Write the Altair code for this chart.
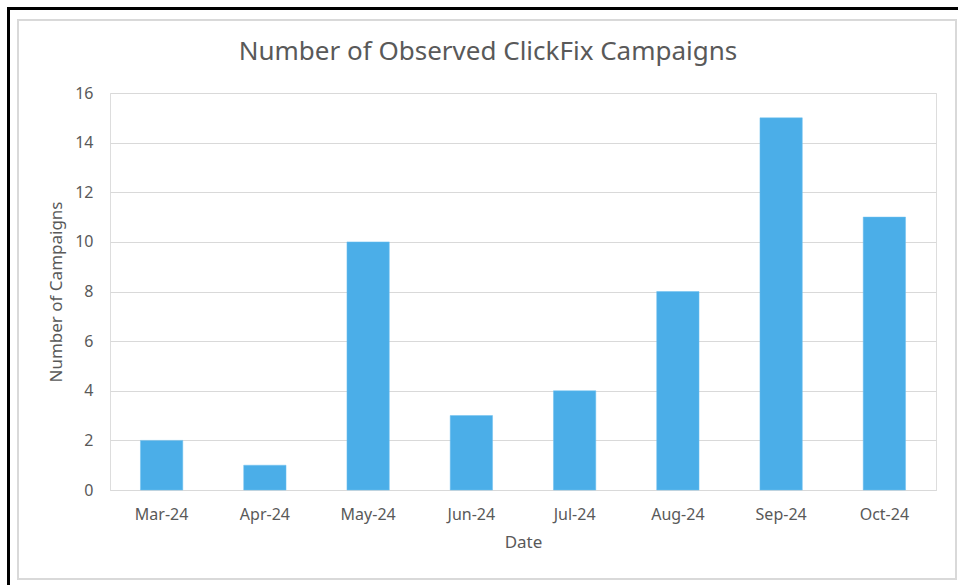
import altair as alt
import pandas as pd

months = ["Mar-24", "Apr-24", "May-24", "Jun-24", "Jul-24", "Aug-24", "Sep-24", "Oct-24"]
campaigns = [2, 1, 10, 3, 4, 8, 15, 11]
chart_title = "Number of Observed ClickFix Campaigns"

df = pd.DataFrame({"Date": months, "Campaigns": campaigns})

FONT = "Noto Sans"
GRAY = "#595959"

bars = alt.Chart(df).mark_bar(color="#4BAEE8", stroke="#6EC0F0", strokeWidth=0.5).encode(
    x=alt.X("Date:N", sort=months, title="Date",
            scale=alt.Scale(paddingInner=0.59, paddingOuter=0.295),
            axis=alt.Axis(labelAngle=0, ticks=False, domain=True, domainColor="#d9d9d9",
                          labelPadding=16, titlePadding=12, labelFontSize=16, titleFontSize=17,
                          labelColor=GRAY, titleColor=GRAY, titleFontWeight="normal",
                          labelFont=FONT, titleFont=FONT)),
    y=alt.Y("Campaigns:Q", title="Number of Campaigns",
            scale=alt.Scale(domain=[0, 16]),
            axis=alt.Axis(values=list(range(0, 17, 2)), ticks=False, domain=False,
                          gridColor="#d9d9d9", labelPadding=17, titlePadding=9,
                          labelFontSize=16, titleFontSize=17, labelColor=GRAY, titleColor=GRAY,
                          titleFontWeight="normal", labelFont=FONT, titleFont=FONT)),
)

inner_box = alt.Chart(df).mark_rect(fill=None, stroke="#d9d9d9", strokeWidth=1.5).encode(
    x=alt.value(18 - 110), x2=alt.value(956 - 110),
    y=alt.value(20 - 93), y2=alt.value(579 - 93),
)
top_line = alt.Chart(df).mark_rule(color="black", strokeWidth=3).encode(
    x=alt.value(7 - 110), x2=alt.value(960 - 110), y=alt.value(8.5 - 93)
)
left_line = alt.Chart(df).mark_rule(color="black", strokeWidth=3).encode(
    x=alt.value(8.5 - 110), y=alt.value(7 - 93), y2=alt.value(590 - 93)
)
title_text = alt.Chart(df).transform_filter("datum.Date == 'Mar-24'").mark_text(
    text=chart_title, fontSize=26, font=FONT, color=GRAY, align="center", baseline="middle"
).encode(x=alt.value(488 - 110), y=alt.value(52 - 93))

chart = alt.layer(inner_box, bars, top_line, left_line, title_text).properties(
    width=826, height=397,
    autosize=alt.AutoSizeParams(type="none"),
    padding={"left": 110, "top": 93, "right": 22, "bottom": 95},
).configure_view(stroke=None).configure(background="white")

chart.save("out.html", embed_options={"renderer": "svg", "actions": False})
